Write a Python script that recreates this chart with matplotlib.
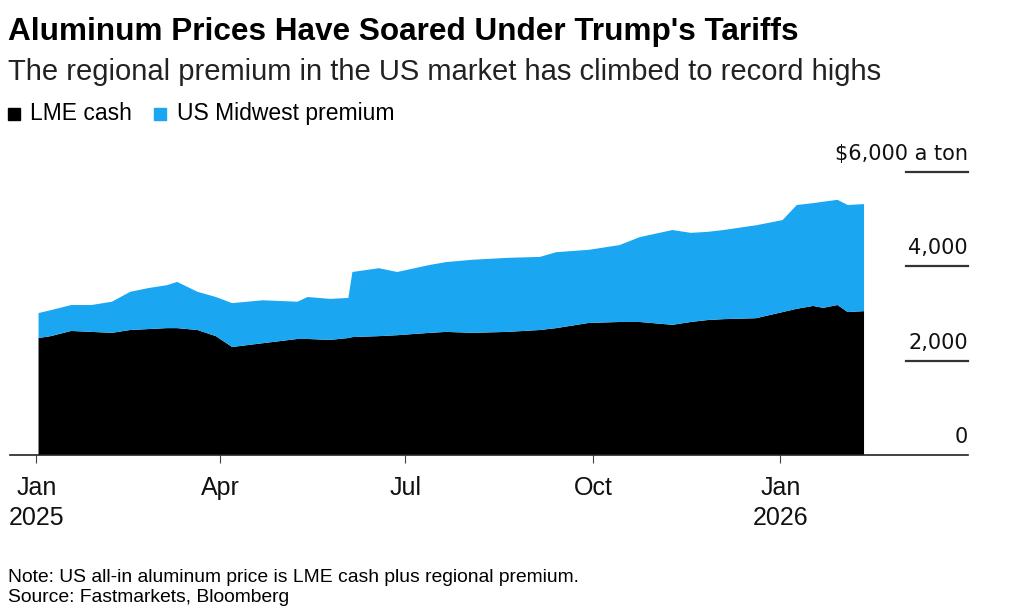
import matplotlib.pyplot as plt
import matplotlib.transforms as mtransforms
from matplotlib.patches import Rectangle
import pandas as pd

# (approximate), $ per ton
dates = ['2025-01-02', '2025-01-08', '2025-01-18', '2025-01-28', '2025-02-07',
         '2025-02-16', '2025-02-25', '2025-03-06', '2025-03-11', '2025-03-21',
         '2025-03-30', '2025-04-07', '2025-04-22', '2025-05-09', '2025-05-14',
         '2025-05-25', '2025-06-03', '2025-06-05', '2025-06-18', '2025-06-27',
         '2025-07-13', '2025-07-21', '2025-08-03', '2025-08-20', '2025-09-05',
         '2025-09-13', '2025-09-29', '2025-10-14', '2025-10-24', '2025-11-09',
         '2025-11-18', '2025-11-26', '2025-12-04', '2025-12-20', '2026-01-02',
         '2026-01-09', '2026-01-17', '2026-01-22', '2026-01-29', '2026-02-03',
         '2026-02-11']
lme_cash = [2480, 2520, 2630, 2610, 2590, 2650, 2670, 2690, 2690, 2650,
            2520, 2290, 2370, 2460, 2460, 2440, 2480, 2500, 2520, 2540,
            2590, 2610, 2590, 2610, 2650, 2690, 2800, 2820, 2820, 2760,
            2820, 2860, 2880, 2900, 3030, 3100, 3160, 3120, 3180, 3030,
            3050]
midwest_premium = [530, 550, 550, 570, 660, 810, 870, 910, 980, 810,
                   830, 930, 910, 790, 890, 870, 850, 1380, 1440, 1340,
                   1440, 1480, 1550, 1570, 1550, 1610, 1550, 1630, 1800, 2010,
                   1890, 1870, 1890, 1970, 1950, 2200, 2180, 2250, 2230, 2270,
                   2270]

y_ticks = [0, 2000, 4000, 6000]
y_labels = ['0', '2,000', '4,000', '$6,000 a ton']
x_ticks = ['2025-01-01', '2025-04-01', '2025-07-01', '2025-10-01', '2026-01-01']
x_labels = ['Jan\n2025', 'Apr', 'Jul', 'Oct', 'Jan\n2026']

BLUE = '#1ba6f2'
plt.rcParams['font.family'] = ['Liberation Sans', 'DejaVu Sans']

x = pd.to_datetime(dates)

fig = plt.figure(figsize=(10.24, 6.06), dpi=100)
ax = fig.add_axes([10 / 1024, 151 / 606, 958 / 1024, 283 / 606])

ax.stackplot(x, lme_cash, midwest_premium, colors=['black', BLUE], linewidth=0)

ax.set_ylim(0, 6000)
ax.set_xlim(pd.Timestamp('2024-12-19'), pd.Timestamp('2026-04-03'))

for s in ['top', 'right', 'left']:
    ax.spines[s].set_visible(False)
ax.spines['bottom'].set_color('#222222')
ax.spines['bottom'].set_linewidth(1.2)

ax.set_yticks([])
ax.set_xticks(pd.to_datetime(x_ticks))
ax.set_xticklabels(x_labels, fontsize=18, linespacing=1.35, color='#111111')
ax.tick_params(axis='x', length=6, color='#444444', pad=9)

# y ticks drawn on the right like the original
trans = mtransforms.blended_transform_factory(ax.transAxes, ax.transData)
for v, lab in zip(y_ticks, y_labels):
    if v > 0:
        ax.plot([0.935, 1.0], [v, v], transform=trans, color='#333333', lw=1.6, clip_on=False)
    ax.text(1.0, v + 255, lab, transform=trans, ha='right', va='baseline', fontsize=15,
            color='#111111', family='DejaVu Sans')

fig.text(8 / 1024, 1 - 32 / 606, "Aluminum Prices Have Soared Under Trump's Tariffs",
         fontsize=22.7, fontweight='bold', va='center', ha='left')
fig.text(8 / 1024, 1 - 72 / 606, 'The regional premium in the US market has climbed to record highs',
         fontsize=21, va='center', ha='left', color='#222222')

# legend
fig.patches.append(Rectangle((8 / 1024, 1 - 120 / 606), 12 / 1024, 12 / 606,
                             transform=fig.transFigure, color='black'))
fig.text(30 / 1024, 1 - 114 / 606, 'LME cash', fontsize=16.5, va='center', ha='left')
fig.patches.append(Rectangle((154 / 1024, 1 - 120 / 606), 12 / 1024, 12 / 606,
                             transform=fig.transFigure, color=BLUE))
fig.text(177 / 1024, 1 - 114 / 606, 'US Midwest premium', fontsize=16.5, va='center', ha='left')

fig.text(8 / 1024, 1 - 577 / 606, 'Note: US all-in aluminum price is LME cash plus regional premium.',
         fontsize=13.9, va='center', ha='left')
fig.text(8 / 1024, 1 - 597 / 606, 'Source: Fastmarkets, Bloomberg',
         fontsize=13.9, va='center', ha='left')

fig.savefig('out.png', dpi=100)
